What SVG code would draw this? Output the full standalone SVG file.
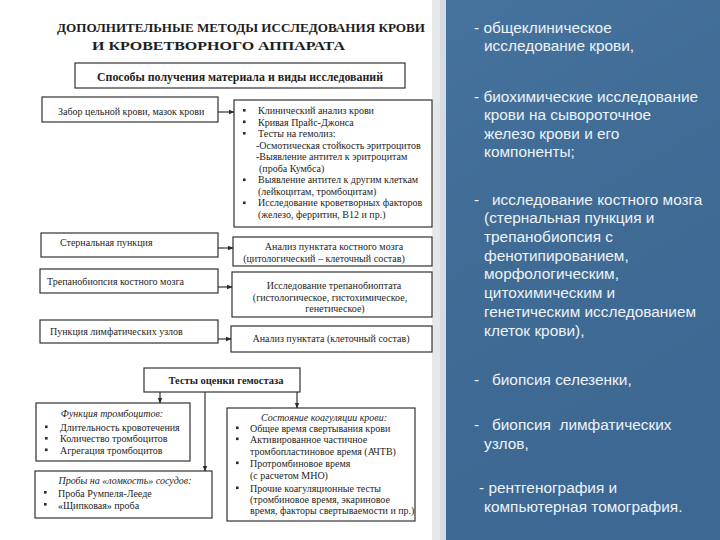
<svg xmlns="http://www.w3.org/2000/svg" width="720" height="540" viewBox="0 0 720 540">
<defs>
<style>
.box{fill:#ffffff;stroke:#2a2a2a;stroke-width:1.15}
.t{font-family:"Liberation Serif","Times New Roman",serif;fill:#1e1e1e}
.s{font-size:10px}
.m{font-size:10px}
.b{font-weight:bold}
.i{font-style:italic}
.c{text-anchor:middle}
.con{stroke:#2a2a2a;stroke-width:1.15;fill:none}
.w{font-family:"Liberation Sans",Arial,sans-serif;font-size:15.4px;fill:#eef3f8}
</style>
<marker id="ah" markerWidth="6" markerHeight="6" refX="5" refY="3" orient="auto" markerUnits="userSpaceOnUse">
<path d="M0,0.8 L5.5,3 L0,5.2 Z" fill="#2a2a2a"/>
</marker>
<rect id="bl" width="2.6" height="2.6" fill="#2a2a2a"/>
<linearGradient id="blue" x1="0" y1="0" x2="0.3" y2="1">
<stop offset="0" stop-color="#46739d"/>
<stop offset="0.5" stop-color="#3f6b95"/>
<stop offset="1" stop-color="#3d6893"/>
</linearGradient>
</defs>

<rect x="0" y="0" width="720" height="540" fill="#ffffff"/>
<rect x="432" y="0" width="8" height="540" fill="#e6e7e9"/>
<rect x="440" y="0" width="6" height="540" fill="#d3dce6"/>
<rect x="446" y="0" width="274" height="540" fill="url(#blue)"/>

<g id="title">
<text class="t b" x="57" y="31.5" font-size="13" textLength="368" lengthAdjust="spacingAndGlyphs">ДОПОЛНИТЕЛЬНЫЕ МЕТОДЫ ИССЛЕДОВАНИЯ КРОВИ</text>
<text class="t b" x="92" y="49.5" font-size="13" textLength="253" lengthAdjust="spacingAndGlyphs">И КРОВЕТВОРНОГО АППАРАТА</text>
</g>

<g id="connectors">
<line class="con" x1="218" y1="112" x2="234" y2="112" marker-end="url(#ah)"/>
<line class="con" x1="218" y1="248" x2="233" y2="248" marker-end="url(#ah)"/>
<line class="con" x1="218" y1="287" x2="232" y2="287" marker-end="url(#ah)"/>
<line class="con" x1="218" y1="339" x2="231" y2="339" marker-end="url(#ah)"/>
<line class="con" x1="160" y1="392" x2="160" y2="403" marker-end="url(#ah)"/>
<line class="con" x1="205" y1="392" x2="205" y2="471" marker-end="url(#ah)"/>
<line class="con" x1="297" y1="392" x2="297" y2="408" marker-end="url(#ah)"/>
</g>

<g id="n-header">
<rect class="box" x="75" y="63" width="330" height="25"/>
<text class="t b c" x="240" y="81" font-size="12" textLength="286" lengthAdjust="spacingAndGlyphs">Способы получения материала и виды исследований</text>
</g>

<g id="n-zabor">
<rect class="box" x="42" y="97" width="176" height="25"/>
<text class="t s" x="58" y="114.5">Забор цельной крови, мазок крови</text>
</g>

<g id="n-list">
<rect class="box" x="234" y="100" width="198" height="127"/>
<use href="#bl" x="243" y="109"/>
<use href="#bl" x="243" y="120.5"/>
<use href="#bl" x="243" y="132"/>
<use href="#bl" x="243" y="178.5"/>
<use href="#bl" x="243" y="201.5"/>
<text class="t s" x="258" y="114">Клинический анализ крови</text>
<text class="t s" x="258" y="125.5">Кривая Прайс-Джонса</text>
<text class="t s" x="258" y="137">Тесты на гемолиз:</text>
<text class="t s" x="256" y="148.5">-Осмотическая стойкость эритроцитов</text>
<text class="t s" x="256" y="160">-Выявление антител к эритроцитам</text>
<text class="t s" x="259" y="171.5">(проба Кумбса)</text>
<text class="t s" x="258" y="183">Выявление антител к другим клеткам</text>
<text class="t s" x="258" y="194.5">(лейкоцитам, тромбоцитам)</text>
<text class="t s" x="258" y="206">Исследование кроветворных факторов</text>
<text class="t s" x="258" y="217.5">(железо, ферритин, В12 и пр.)</text>
</g>

<g id="n-sternal">
<rect class="box" x="41" y="233" width="177" height="24"/>
<text class="t s" x="60" y="246">Стернальная пункция</text>
</g>

<g id="n-sternal-res">
<rect class="box" x="233" y="237" width="199" height="29"/>
<text class="t s c" x="334" y="250">Анализ пунктата костного мозга</text>
<text class="t s c" x="324" y="262">(цитологический – клеточный состав)</text>
</g>

<g id="n-trepan">
<rect class="box" x="40" y="269" width="178" height="24"/>
<text class="t s" x="47" y="285">Трепанобиопсия костного мозга</text>
</g>

<g id="n-trepan-res">
<rect class="box" x="232" y="272" width="200" height="45"/>
<text class="t s c" x="334" y="289">Исследование трепанобиоптата</text>
<text class="t s c" x="330" y="300.5">(гистологическое, гистохимическое,</text>
<text class="t s c" x="335" y="312">генетическое)</text>
</g>

<g id="n-lymph">
<rect class="box" x="40" y="320" width="178" height="23"/>
<text class="t s" x="50" y="335">Пункция лимфатических узлов</text>
</g>

<g id="n-lymph-res">
<rect class="box" x="231" y="326" width="201" height="26"/>
<text class="t s c" x="331" y="341.5">Анализ пунктата (клеточный состав)</text>
</g>

<g id="n-hemostasis">
<rect class="box" x="144" y="368" width="156" height="24"/>
<text class="t b c" x="226" y="384" font-size="10.5">Тесты оценки гемостаза</text>
</g>

<g id="n-platelets">
<rect class="box" x="36" y="403" width="154" height="58"/>
<text class="t m i c" x="112" y="416.5">Функция тромбоцитов:</text>
<use href="#bl" x="45" y="425.5"/>
<use href="#bl" x="45" y="437"/>
<use href="#bl" x="45" y="448.5"/>
<text class="t m" x="60" y="430.5">Длительность кровотечения</text>
<text class="t m" x="60" y="442">Количество тромбоцитов</text>
<text class="t m" x="60" y="453.5">Агрегация тромбоцитов</text>
</g>

<g id="n-fragility">
<rect class="box" x="35" y="471" width="177" height="47"/>
<text class="t m i c" x="125" y="483.5">Пробы на «ломкость» сосудов:</text>
<use href="#bl" x="44" y="491"/>
<use href="#bl" x="44" y="503"/>
<text class="t m" x="58" y="496.5">Проба Румпеля-Лееде</text>
<text class="t m" x="58" y="508.5">«Щипковая» проба</text>
</g>

<g id="n-coag">
<rect class="box" x="227" y="408" width="188" height="113"/>
<text class="t m i c" x="324" y="420.5">Состояние коагуляции крови:</text>
<use href="#bl" x="236" y="426.5"/>
<use href="#bl" x="236" y="437.5"/>
<use href="#bl" x="236" y="461.5"/>
<use href="#bl" x="236" y="486.5"/>
<text class="t m" x="250" y="431.5">Общее время свертывания крови</text>
<text class="t m" x="250" y="442.5">Активированное частичное</text>
<text class="t m" x="250" y="454.5">тромбопластиновое время (АЧТВ)</text>
<text class="t m" x="250" y="466.5">Протромбиновое время</text>
<text class="t m" x="250" y="478.5">(с расчетом МНО)</text>
<text class="t m" x="250" y="491.5">Прочие коагуляционные тесты</text>
<text class="t m" x="250" y="502.5">(тромбиновое время, экариновое</text>
<text class="t m" x="250" y="513.5">время, факторы свертываемости и пр.)</text>
</g>

<g id="right-text">
<text class="w" x="474" y="33">- общеклиническое</text>
<text class="w" x="484" y="50.5">исследование крови,</text>
<text class="w" x="474" y="102">- биохимические исследование</text>
<text class="w" x="484" y="120">крови на сывороточное</text>
<text class="w" x="484" y="138.5">железо крови и его</text>
<text class="w" x="484" y="157">компоненты;</text>
<text class="w" x="474" y="205" xml:space="preserve">-   исследование костного мозга</text>
<text class="w" x="484" y="223">(стернальная пункция и</text>
<text class="w" x="484" y="242">трепанобиопсия с</text>
<text class="w" x="484" y="261">фенотипированием,</text>
<text class="w" x="484" y="279">морфологическим,</text>
<text class="w" x="484" y="298">цитохимическим и</text>
<text class="w" x="484" y="317">генетическим исследованием</text>
<text class="w" x="484" y="336">клеток крови),</text>
<text class="w" x="474" y="385" xml:space="preserve">-   биопсия селезенки,</text>
<text class="w" x="474" y="430" xml:space="preserve">-   биопсия  лимфатических</text>
<text class="w" x="484" y="448.5">узлов,</text>
<text class="w" x="479" y="493" xml:space="preserve">- рентгенография и</text>
<text class="w" x="484" y="512">компьютерная томография.</text>
</g>
</svg>
